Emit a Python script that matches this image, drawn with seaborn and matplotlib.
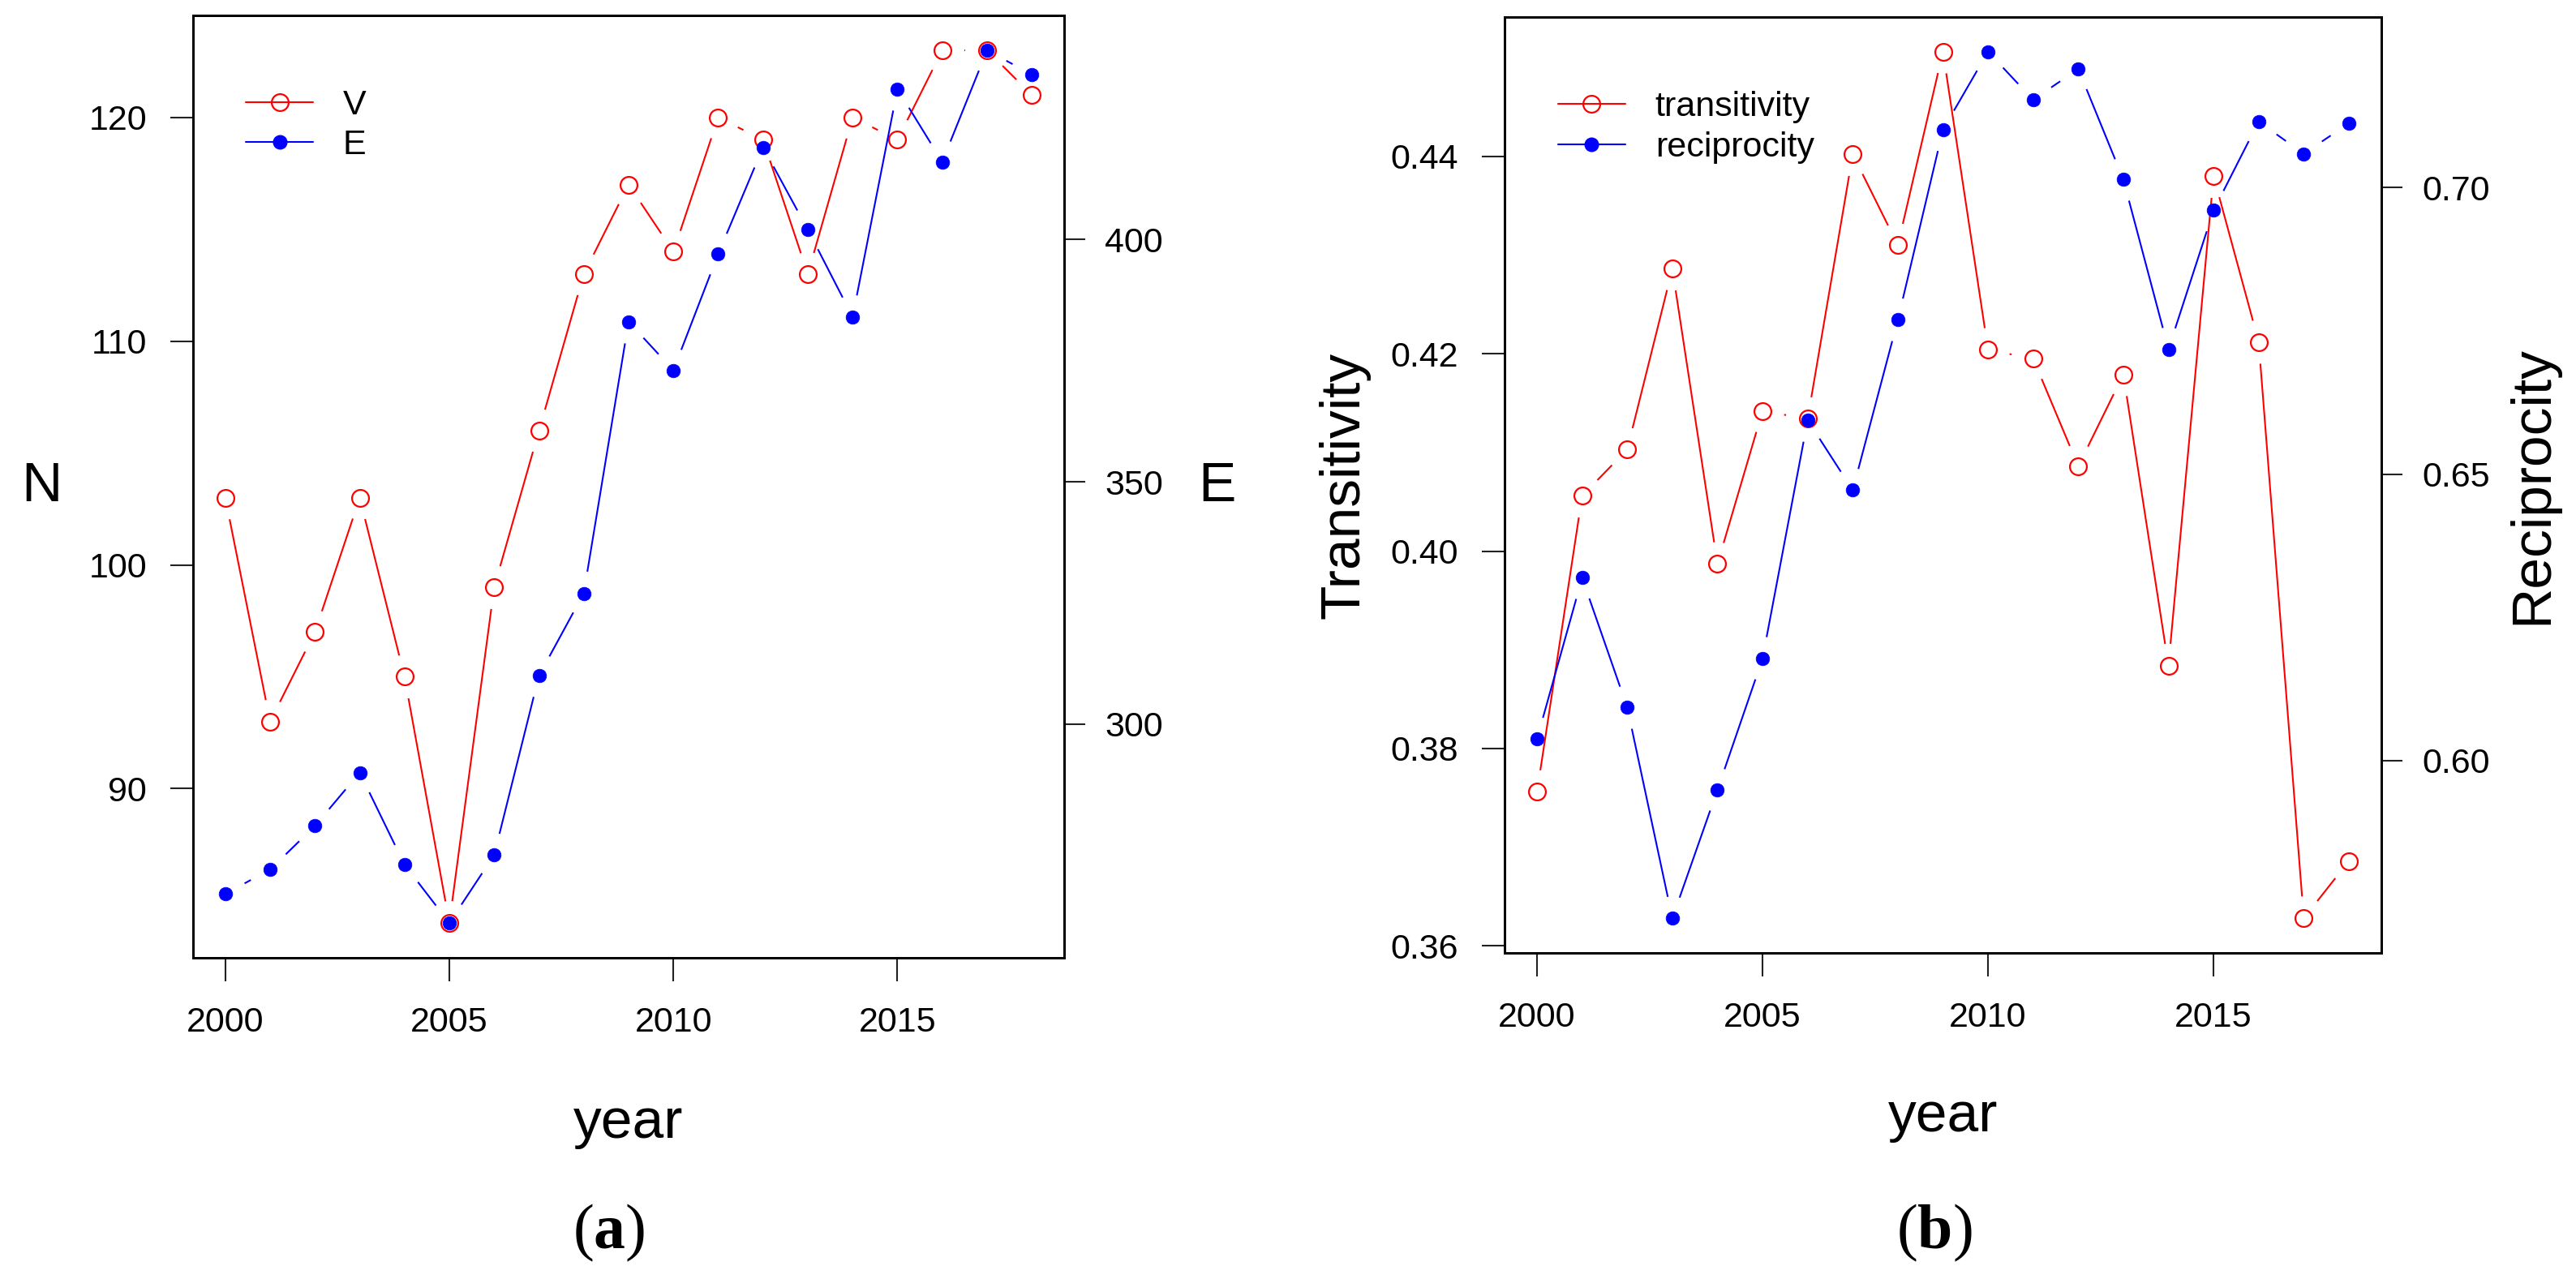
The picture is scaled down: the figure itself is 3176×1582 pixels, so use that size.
import numpy as np
import matplotlib
matplotlib.use("Agg")
import matplotlib.pyplot as plt
import seaborn as sns
from matplotlib.lines import Line2D
from matplotlib.collections import LineCollection
from matplotlib.ticker import FormatStrFormatter

# ---------------- data ----------------
years = list(range(2000, 2019))
V = [103, 93, 97, 103, 95, 84, 99, 106, 113, 117, 114, 120, 119, 113, 120, 119, 123, 123, 121]
E = [265, 270, 279, 290, 271, 259, 273, 310, 327, 383, 373, 397, 419, 402, 384, 431, 416, 439, 434]
transitivity = [0.3756, 0.4056, 0.4103, 0.4286, 0.3987, 0.4142, 0.4134, 0.4402, 0.4310, 0.4506,
                0.4204, 0.4195, 0.4086, 0.4179, 0.3884, 0.4380, 0.4212, 0.3628, 0.3686]
reciprocity = [0.6038, 0.6319, 0.6093, 0.5725, 0.5949, 0.6178, 0.6594, 0.6472, 0.6769, 0.7101,
               0.7237, 0.7153, 0.7207, 0.7014, 0.6718, 0.6960, 0.7115, 0.7059, 0.7112]

x_ticks = [2000, 2005, 2010, 2015]
N_ticks = [90, 100, 110, 120]
E_ticks = [300, 350, 400]
T_ticks = [0.36, 0.38, 0.40, 0.42, 0.44]
R_ticks = [0.60, 0.65, 0.70]

# ---------------- style ----------------
sns.set_style("white")
plt.rcParams["font.family"] = ["Liberation Sans", "DejaVu Sans"]
plt.rcParams["mathtext.fontset"] = "custom"
plt.rcParams["mathtext.rm"] = "Liberation Serif"
plt.rcParams["mathtext.bf"] = "Liberation Serif:bold"
plt.rcParams["text.color"] = "black"
plt.rcParams["axes.labelcolor"] = "black"
plt.rcParams["xtick.color"] = "black"
plt.rcParams["ytick.color"] = "black"
plt.rcParams["xtick.labelcolor"] = "black"
plt.rcParams["ytick.labelcolor"] = "black"

RED = "#FF0000"
BLUE = "#0000FF"
TICK_FS = 31
LAB_FS = 50
LW = 1.5
GAP = 27  # px gap around points (R type="b")

W, H = 3176, 1582
fig = plt.figure(figsize=(W / 100, H / 100), dpi=100)
fig.patch.set_facecolor("white")


def frac_box(x0, y0, x1, y1):
    return [x0 / W, 1 - y1 / H, (x1 - x0) / W, (y1 - y0) / H]


axL = fig.add_axes(frac_box(238, 19, 1312, 1181))
axL2 = axL.twinx()
axR = fig.add_axes(frac_box(1855, 21, 2936, 1175))
axR2 = axR.twinx()


def r_lim(vals):
    lo, hi = min(vals), max(vals)
    pad = 0.04 * (hi - lo)
    return lo - pad, hi + pad


for a in (axL, axL2, axR, axR2):
    a.set_facecolor("none")
    for s in a.spines.values():
        s.set_visible(True)
        s.set_linewidth(2.0)
        s.set_color("black")
    a.grid(False)


def set_limits():
    axL.set_xlim(r_lim(years))
    axL.set_ylim(r_lim(V))
    axL2.set_ylim(r_lim(E))
    axR.set_xlim(r_lim(years))
    axR.set_ylim(r_lim(transitivity))
    axR2.set_ylim(r_lim(reciprocity))


set_limits()


def gapped_line(ax, x, y, color):
    pts = ax.transData.transform(np.column_stack([x, y]))
    inv = ax.transData.inverted()
    segs = []
    for p0, p1 in zip(pts[:-1], pts[1:]):
        d = p1 - p0
        L = np.hypot(d[0], d[1])
        if L > 2 * GAP:
            u = d / L
            segs.append([inv.transform(p0 + u * GAP), inv.transform(p1 - u * GAP)])
    ax.add_collection(LineCollection(segs, colors=color, linewidths=LW, zorder=2))


def open_pts(ax, x, y):
    sns.lineplot(x=x, y=y, ax=ax, estimator=None, errorbar=None, linestyle="", marker="o",
                 markersize=15, markerfacecolor="none", markeredgecolor=RED,
                 markeredgewidth=1.6, color=RED, legend=False, zorder=3)


def filled_pts(ax, x, y):
    sns.lineplot(x=x, y=y, ax=ax, estimator=None, errorbar=None, linestyle="", marker="o",
                 markersize=12, markerfacecolor=BLUE, markeredgecolor=BLUE,
                 markeredgewidth=0.5, color=BLUE, legend=False, zorder=3)


gapped_line(axL, years, V, RED)
open_pts(axL, years, V)
gapped_line(axL2, years, E, BLUE)
filled_pts(axL2, years, E)

gapped_line(axR, years, transitivity, RED)
open_pts(axR, years, transitivity)
gapped_line(axR2, years, reciprocity, BLUE)
filled_pts(axR2, years, reciprocity)

set_limits()

# ticks
for a in (axL, axR):
    a.set_xticks(x_ticks)
    a.tick_params(axis="x", bottom=True, direction="out", length=21, width=1.5,
                  labelsize=TICK_FS, pad=22, color="#222222", labelcolor="black")
    a.tick_params(axis="y", left=True, right=False, direction="out", length=20, width=1.5,
                  labelsize=TICK_FS, pad=21, color="#222222", labelcolor="black")
axL.set_yticks(N_ticks)
axR.set_yticks(T_ticks)
axR.yaxis.set_major_formatter(FormatStrFormatter("%.2f"))
for a in (axL2, axR2):
    a.tick_params(axis="y", right=True, left=False, direction="out", length=19, width=1.5,
                  labelsize=TICK_FS, pad=17, color="#222222", labelcolor="black")
axL2.set_yticks(E_ticks)
axR2.set_yticks(R_ticks)
axR2.yaxis.set_major_formatter(FormatStrFormatter("%.2f"))

# axis labels
for a in (axL, axR):
    a.set_xlabel("year", fontsize=LAB_FS, va="baseline", color="black")
    a.xaxis.set_label_coords(0.5, -0.191)
axL.set_ylabel("N", fontsize=LAB_FS, rotation=0, ha="center", va="center", color="black")
axL.yaxis.set_label_coords(-0.174, 0.5)
axL2.set_ylabel("E", fontsize=LAB_FS, rotation=0, ha="center", va="center", color="black")
axL2.yaxis.set_label_coords(1.175, 0.5)
axR.set_ylabel("Transitivity", fontsize=LAB_FS, rotation=90, ha="center", va="center", color="black")
axR.yaxis.set_label_coords(-0.183, 0.5)
axR2.set_ylabel("Reciprocity", fontsize=LAB_FS, rotation=90, ha="center", va="center", color="black")
axR2.yaxis.set_label_coords(1.172, 0.5)

# legends
h_open = Line2D([], [], color=RED, lw=LW, marker="o", markersize=15, markerfacecolor="none",
                markeredgecolor=RED, markeredgewidth=1.6)
h_fill = Line2D([], [], color=BLUE, lw=LW, marker="o", markersize=12, markerfacecolor=BLUE,
                markeredgecolor=BLUE)
leg_kw = dict(loc="upper left", frameon=False, fontsize=TICK_FS, handlelength=1.93,
              handletextpad=0.85, labelspacing=0.22, borderpad=0, borderaxespad=0,
              labelcolor="black")
axL2.legend([h_open, h_fill], ["V", "E"], bbox_to_anchor=(0.0605, 0.922), **leg_kw)
axR2.legend([h_open, h_fill], ["transitivity", "reciprocity"], bbox_to_anchor=(0.061, 0.921), **leg_kw)

# captions
fig.text(751 / W, 1 - 1520 / H, r"$\mathrm{(}\mathbf{a}\mathrm{)}$", ha="center", va="center",
         fontsize=56, color="black")
fig.text(2385 / W, 1 - 1520 / H, r"$\mathrm{(}\mathbf{b}\mathrm{)}$", ha="center", va="center",
         fontsize=56, color="black")

fig.savefig("out.png", dpi=100, facecolor="white")
